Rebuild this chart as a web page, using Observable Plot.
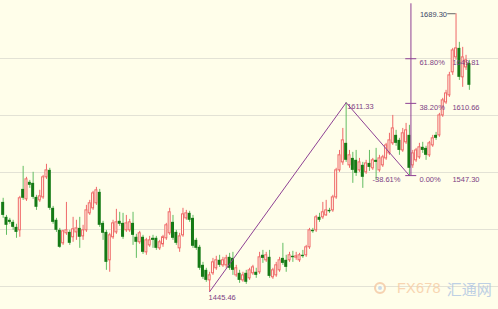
<!DOCTYPE html>
<html>
<head>
<meta charset="utf-8">
<script src="https://cdn.jsdelivr.net/npm/d3@7"></script>
<script src="https://cdn.jsdelivr.net/npm/@observablehq/plot@0.6"></script>
<style>
html,body{margin:0;padding:0;background:#fffeea;}
#wrap{position:relative;width:498px;height:309px;overflow:hidden;}
#wrap svg{display:block;}
#wm{position:absolute;left:374px;top:279px;height:18px;display:flex;align-items:center;white-space:nowrap;pointer-events:none;opacity:0.85;}
#wm .logo{width:8px;height:8px;border-radius:50%;border:2px solid #f5cba6;box-shadow:inset 0 0 0 2px #fffeea, inset 0 0 0 4px #c3d4ea;margin-right:11px;}
#wm .fx{font-family:"Liberation Sans",Arial,sans-serif;font-size:14.5px;color:#f7cfa8;letter-spacing:0.2px;margin-right:6px;}
#wm .cn{font-family:"Noto Sans CJK SC",sans-serif;font-size:15px;color:#b3c8e4;font-weight:normal;}
</style>
</head>
<body>
<div id="wrap"><div id="wm"><span class="logo"></span><span class="fx">FX678</span><span class="cn">汇通网</span></div></div>
<script>
// ---- data (one candle per index) ----
const opens = [1523.8,1510.7,1508.1,1506.3,1501.9,1499.3,1535.2,1526.5,1541.4,1540.5,1528.2,1525.6,1528.2,1545.8,1551.9,1518.6,1508.1,1499.3,1487.9,1496.7,1497.5,1493.2,1497.5,1501.0,1494.0,1499.3,1514.2,1518.6,1523.0,1532.6,1505.4,1497.5,1473.0,1493.2,1497.5,1507.2,1505.4,1499.3,1499.3,1505.4,1493.2,1488.8,1493.2,1480.0,1486.1,1492.3,1492.3,1483.5,1487.0,1492.3,1496.7,1506.3,1497.5,1483.5,1494.9,1509.8,1514.2,1509.8,1490.5,1484.4,1468.6,1464.2,1455.4,1461.6,1466.0,1473.0,1468.6,1468.6,1475.6,1474.7,1459.8,1461.6,1455.4,1461.6,1457.2,1461.6,1462.5,1462.5,1477.4,1473.0,1475.6,1458.1,1459.8,1464.2,1474.7,1473.0,1473.0,1476.5,1475.6,1473.0,1477.4,1477.4,1484.4,1499.3,1499.3,1510.7,1510.7,1512.4,1516.8,1516.8,1528.2,1551.9,1558.9,1575.6,1556.3,1562.4,1560.7,1551.9,1556.3,1550.2,1558.0,1553.7,1560.7,1551.9,1556.3,1562.4,1566.8,1575.6,1582.6,1578.2,1569.4,1576.5,1582.6,1556.3,1560.7,1563.3,1572.1,1571.2,1565.1,1573.8,1582.6,1582.6,1600.1,1611.5,1617.7,1637.9,1651.0,1658.9,1633.5,1642.2,1645.7];
const highs = [1527.4,1512.4,1509.8,1508.1,1504.6,1529.1,1555.4,1545.8,1543.1,1550.2,1530.0,1534.4,1547.5,1557.2,1553.7,1520.3,1509.8,1501.0,1499.3,1523.8,1499.3,1510.7,1508.1,1510.7,1503.7,1521.2,1525.6,1533.5,1537.0,1535.2,1507.2,1499.3,1496.7,1508.1,1517.7,1515.1,1514.2,1512.4,1508.9,1515.1,1495.8,1498.4,1494.9,1492.3,1494.0,1494.9,1494.0,1490.5,1494.9,1505.4,1518.6,1512.4,1499.3,1496.7,1518.6,1516.8,1516.0,1512.4,1492.3,1486.1,1471.2,1466.0,1462.5,1474.7,1476.5,1477.4,1475.6,1477.4,1479.1,1480.0,1468.6,1464.2,1462.5,1464.2,1466.0,1468.6,1466.0,1480.0,1481.7,1480.0,1481.7,1466.0,1471.2,1475.6,1487.9,1477.4,1480.0,1480.9,1480.0,1479.1,1481.7,1486.1,1501.0,1501.0,1512.4,1514.2,1523.8,1525.6,1518.6,1530.0,1553.7,1569.4,1588.7,1611.33,1569.4,1567.7,1569.4,1562.4,1558.9,1560.7,1569.4,1562.4,1571.2,1565.1,1565.1,1575.6,1584.4,1600.1,1587.0,1580.0,1588.7,1593.1,1591.4,1569.4,1571.2,1575.6,1576.5,1573.0,1577.3,1582.6,1585.2,1601.9,1615.1,1622.1,1637.9,1658.9,1689.30,1664.2,1659.8,1652.8,1648.4];
const lows = [1509.8,1494.9,1504.6,1499.3,1492.3,1493.2,1525.6,1524.7,1536.1,1526.5,1516.8,1523.8,1526.5,1544.0,1516.8,1504.6,1497.5,1483.5,1486.1,1494.9,1486.1,1488.8,1490.5,1483.5,1490.5,1497.5,1512.4,1516.8,1521.2,1501.9,1490.5,1464.2,1462.5,1491.4,1495.8,1502.8,1491.4,1497.5,1497.5,1486.1,1474.7,1487.0,1478.2,1477.4,1484.4,1483.5,1481.7,1481.7,1484.4,1490.5,1494.9,1490.5,1486.1,1480.0,1493.2,1508.1,1506.3,1483.5,1481.7,1464.2,1456.3,1453.7,1445.46,1459.8,1464.2,1466.8,1466.8,1466.0,1464.2,1459.8,1458.1,1452.8,1453.7,1451.9,1455.4,1459.8,1457.2,1460.7,1470.3,1471.2,1457.2,1456.3,1458.1,1462.5,1468.6,1462.5,1471.2,1471.2,1473.0,1471.2,1474.7,1475.6,1482.6,1496.7,1497.5,1506.3,1508.9,1511.6,1514.2,1515.1,1526.5,1550.2,1556.3,1558.9,1553.7,1540.5,1546.6,1550.2,1536.1,1548.4,1551.0,1551.9,1543.1,1550.2,1554.5,1560.7,1565.1,1573.8,1573.0,1565.1,1567.7,1574.7,1547.30,1553.7,1558.9,1561.6,1566.8,1560.7,1563.3,1572.1,1578.2,1580.9,1598.4,1609.8,1615.9,1635.2,1648.4,1630.8,1624.7,1639.6,1622.1];
const closes = [1512.4,1503.7,1506.3,1501.9,1497.5,1527.4,1527.4,1544.0,1538.8,1528.2,1519.5,1529.1,1545.8,1551.9,1518.6,1506.3,1499.3,1484.4,1498.4,1499.3,1487.9,1500.2,1501.0,1493.2,1499.3,1516.8,1523.0,1531.7,1534.4,1503.7,1496.7,1471.2,1494.9,1505.4,1506.3,1504.6,1493.2,1505.4,1506.3,1494.9,1488.8,1496.7,1480.0,1490.5,1490.5,1490.5,1483.5,1488.8,1493.2,1503.7,1515.1,1492.3,1487.9,1494.0,1513.3,1514.2,1508.1,1485.3,1483.5,1466.0,1458.1,1455.4,1459.8,1471.2,1473.0,1468.6,1473.0,1474.7,1466.0,1464.2,1466.0,1455.4,1459.8,1453.7,1464.2,1466.8,1459.8,1475.6,1474.7,1477.4,1458.9,1464.2,1468.6,1473.0,1470.3,1466.8,1477.4,1475.6,1476.5,1477.4,1476.5,1484.4,1499.3,1498.4,1510.7,1508.1,1515.1,1516.8,1516.0,1528.2,1551.9,1565.1,1578.2,1560.7,1565.1,1551.9,1549.3,1558.9,1545.8,1558.0,1554.5,1560.7,1558.9,1562.4,1563.3,1573.8,1578.2,1588.7,1575.6,1569.4,1584.4,1587.0,1553.7,1566.8,1569.4,1572.1,1569.4,1565.1,1575.6,1580.0,1580.0,1600.1,1613.3,1619.4,1635.2,1657.1,1658.9,1633.5,1651.0,1648.4,1626.5];

const gridLevels = [1450, 1500, 1550, 1600, 1650];

// zigzag swing points (candle index, price)
const swingIdx = [62, 103, 122];
const swingPrices = [1445.46, 1611.33, 1547.30];
const swingLabels = ["1445.46", "1611.33"];
const retraceLabel = "-38.61%";

// Fibonacci levels
const fibIdx = 122;
const fibPrices = [1547.30, 1610.66, 1649.81];
const fibPctLabels = ["0.00%", "38.20%", "61.80%"];
const fibPriceLabels = ["1547.30", "1610.66", "1649.81"];
const fibTop = 1698;

// top of the move
const peakIdx = 136;
const peakPrice = 1689.30;
const peakLabel = "1689.30";

// ---- styling ----
const bg = "#fffeea";
const red = "#ef6868";
const green = "#157a15";
const greenWick = "#62bd62";
const purple = "#8e4194";
const textPurple = "#7d3f84";
const font = "Liberation Sans, Arial, sans-serif";

const candles = opens.map((o, i) => {
  const c = closes[i];
  const top = Math.max(o, c);
  let bot = Math.min(o, c);
  if (top - bot < 1.2) bot = top - 1.2;
  return {i, o, h: highs[i], l: lows[i], c, top, bot, up: c >= o};
});
const ups = candles.filter(d => d.up);
const downs = candles.filter(d => !d.up);
const swing = swingIdx.map((i, k) => ({i, p: swingPrices[k]}));
const fibs = fibPrices.map((p, k) => ({p, pct: fibPctLabels[k], lab: fibPriceLabels[k]}));

const chart = Plot.plot({
  width: 498,
  height: 309,
  margin: 0,
  style: {background: bg, overflow: "hidden"},
  x: {domain: [-0.8, 148.75], axis: null},
  y: {domain: [1429.85, 1700.9], axis: null},
  marks: [
    Plot.ruleY(gridLevels, {stroke: "#e3e2d5", strokeWidth: 1}),
    Plot.ruleX(downs, {x: "i", y1: "l", y2: "h", stroke: greenWick}),
    Plot.ruleX(ups, {x: "i", y1: "l", y2: "h", stroke: red}),
    Plot.rect(downs, {x1: d => d.i - 0.45, x2: d => d.i + 0.45, y1: "bot", y2: "top", fill: green}),
    Plot.rect(ups, {x1: d => d.i - 0.3, x2: d => d.i + 0.3, y1: "bot", y2: "top", fill: bg, stroke: red}),
    Plot.line(swing, {x: "i", y: "p", stroke: purple, strokeWidth: 1}),
    Plot.ruleX([{x: fibIdx, y1: fibPrices[0], y2: fibTop}], {x: "x", y1: "y1", y2: "y2", stroke: purple, dx: 1.5}),
    Plot.ruleY(fibs, {y: "p", x1: fibIdx - 1.1, x2: fibIdx + 2.2, stroke: purple}),
    Plot.ruleY([{p: peakPrice}], {y: "p", x1: peakIdx - 2.5, x2: peakIdx, stroke: "#666"}),
    Plot.text(fibs, {x: fibIdx, y: "p", text: "pct", textAnchor: "start", dx: 10, dy: 4, fill: textPurple, fontSize: 7.5, fontFamily: font}),
    Plot.text(fibs, {x: fibIdx, y: "p", text: "lab", textAnchor: "start", dx: 43, dy: 4, fill: textPurple, fontSize: 7.5, fontFamily: font}),
    Plot.text([{i: peakIdx, p: peakPrice}], {x: "i", y: "p", text: () => peakLabel, textAnchor: "end", dx: -9, dy: 0.5, fill: "#3b4766", fontSize: 7.5, fontFamily: font}),
    Plot.text([swing[1]], {x: "i", y: "p", text: () => swingLabels[1], textAnchor: "start", dx: 1, dy: 3.5, fill: textPurple, fontSize: 7.5, fontFamily: font}),
    Plot.text([swing[0]], {x: "i", y: "p", text: () => swingLabels[0], textAnchor: "start", dx: -1, dy: 6, fill: textPurple, fontSize: 7.5, fontFamily: font}),
    Plot.text([swing[2]], {x: "i", y: "p", text: () => retraceLabel, textAnchor: "end", dx: -9, dy: 4, fill: textPurple, fontSize: 7.5, fontFamily: font})
  ]
});
const wrap = document.getElementById("wrap");
wrap.insertBefore(chart, wrap.firstChild);
</script>
</body>
</html>
